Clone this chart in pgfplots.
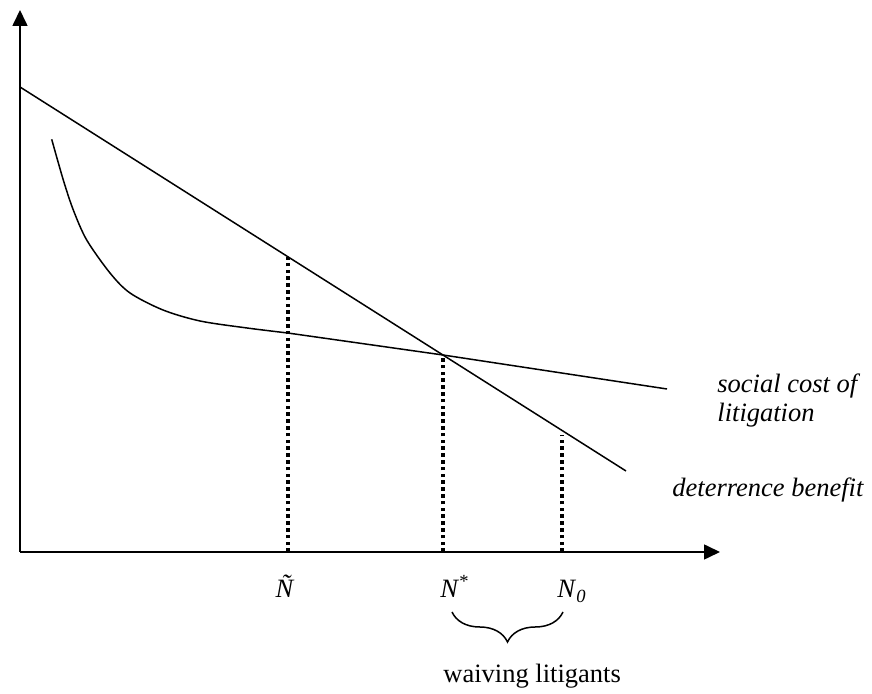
\documentclass[border=0pt]{standalone}
\usepackage{fontspec}
\setmainfont{Liberation Serif}
\usepackage{pgfplots}
\pgfplotsset{compat=1.18}
\usetikzlibrary{arrows.meta,decorations.pathreplacing}
\begin{document}
\fontsize{13.25}{15}\selectfont
\begin{tikzpicture}
\begin{axis}[
  scale only axis, width=350pt, height=271pt,
  xmin=20, xmax=720, ymin=142, ymax=684,
  axis lines=left,
  axis line style={line width=0.8pt, -{Triangle[length=8pt,width=7.5pt]}},
  xtick=\empty, ytick=\empty,
  clip=false,
]
\path (axis cs:0,0) rectangle (axis cs:872,694);
% deterrence benefit
\addplot[black, line width=0.75pt] coordinates {(20,607) (626,223)};
% social cost of litigation
\addplot[black, line width=0.75pt, smooth, tension=0.5] coordinates {
 (51.7,554.7) (63.3,514) (73.3,484) (86.7,454) (110,421) (130,401)
 (163,384) (200,373) (247,366) (287.7,361)};
\addplot[black, line width=0.75pt] coordinates {(287.7,361) (443,339) (667,305)};
% dotted verticals
\addplot[black, line width=1.8pt, dash pattern=on 1.8pt off 1.6pt] coordinates {(287.7,142) (287.7,437.3)};
\addplot[black, line width=1.8pt, dash pattern=on 1.8pt off 1.6pt] coordinates {(443,142) (443,339)};
\addplot[black, line width=1.8pt, dash pattern=on 1.8pt off 1.6pt] coordinates {(562,142) (562,259)};
% labels
\node[anchor=base] at (axis cs:285,96) {\textit{Ñ}};
\node[anchor=base west, inner sep=0pt] at (axis cs:440,96) {\textit{N}\textsuperscript{*}};
\node[anchor=base west, inner sep=0pt] at (axis cs:557,96) {\textit{N}\textsubscript{\textit{0}}};
\draw[line width=0.75pt, decorate, decoration={brace, mirror, amplitude=15pt, aspect=0.5}]
  (axis cs:452,82) -- (axis cs:563,82);
\node[anchor=base west, inner sep=0pt] at (axis cs:443,11) {waiving litigants};
\node[anchor=base west, inner sep=0pt] at (axis cs:717,301) {\textit{social cost of}};
\node[anchor=base west, inner sep=0pt] at (axis cs:717,272) {\textit{litigation}};
\node[anchor=base west, inner sep=0pt] at (axis cs:672,197) {\textit{deterrence benefit}};
\end{axis}
\end{tikzpicture}
\end{document}
